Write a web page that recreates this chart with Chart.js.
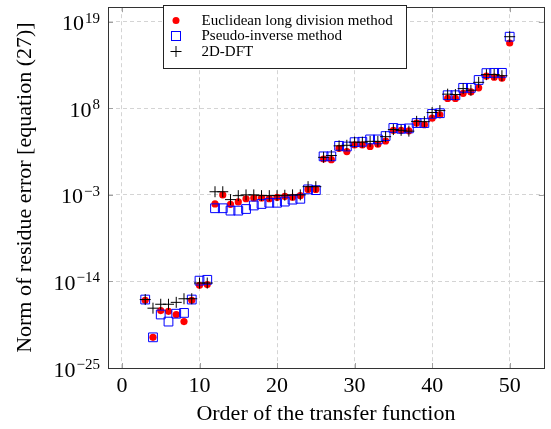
<!DOCTYPE html>
<html>
<head>
<meta charset="utf-8">
<script src="https://cdn.jsdelivr.net/npm/chart.js@4.4.1/dist/chart.umd.min.js"></script>
<style>
  html, body { margin: 0; padding: 0; background: #fff; }
  #wrap { width: 551px; height: 429px; }
</style>
</head>
<body>
<div id="wrap"><canvas id="chart" width="551" height="429"></canvas></div>
<script>
// transfer function orders
const orders = [3, 4, 5, 6, 7, 8, 9, 10, 11, 12, 13, 14, 15, 16, 17, 18, 19, 20, 21, 22, 23, 24, 25,
    26, 27, 28, 29, 30, 31, 32, 33, 34, 35, 36, 37, 38, 39, 40, 41, 42, 43, 44, 45, 46, 47, 48, 49, 50];

// Euclidean long division method
const euclidean = [4e-17, 7.9e-22, 2e-18, 1.6e-18, 6.3e-19, 7.9e-20, 4e-17, 3.2e-15, 4e-15,
    7e-5, 1e-3, 6.3e-5, 1.26e-4, 3.2e-4, 4e-4, 4e-4, 3.2e-4, 5e-4, 6.3e-4, 5e-4, 8e-4, 5e-3, 5e-3,
    36, 30, 800, 320, 2200, 2200, 1400, 2700, 7000, 1.6e5, 1.6e5, 1.4e5, 1.35e6, 8.3e5, 5.6e6, 1.5e7,
    1.8e9, 1.8e9, 8e9, 1.2e10, 4e10, 1.2e12, 9e11, 6.6e11, 2e16];

// Pseudo-inverse method
const pseudoInverse = [5e-17, 7.9e-22, 6.3e-19, 7.9e-20, 7.9e-19, 1e-18, 5e-17, 1.26e-14, 1.6e-14,
    2e-5, 2e-5, 1e-5, 1e-5, 1.6e-5, 4.5e-5, 7e-5, 1e-4, 1e-4, 1.4e-4, 2.5e-4, 3.2e-4, 5e-3, 4e-3,
    79, 79, 1700, 1400, 5000, 5600, 11200, 11200, 3e4, 3.2e5, 2.5e5, 2.8e5, 1.35e6, 1.35e6, 2e7, 2.4e7,
    4.6e9, 4.6e9, 4e10, 4e10, 4e11, 3e12, 3.2e12, 3.2e12, 1.26e17];

// 2D-DFT
const dft2d = [5e-17, 4e-18, 1.26e-17, 1.26e-17, 2.2e-17, 6.3e-17, 6.3e-17, 6.3e-15, 6.3e-15,
    2.5e-3, 2.5e-3, 2.5e-4, 8e-4, 1e-3, 1e-3, 8e-4, 8e-4, 8e-4, 9e-4, 1e-3, 1e-3, 1.1e-2, 1.1e-2,
    59, 100, 1700, 2000, 5000, 5000, 6300, 6300, 2.5e4, 2e5, 1.6e5, 1.26e5, 2.2e6, 2e6, 2.9e7, 5.1e7,
    6.3e9, 5.6e9, 3.2e10, 2e10, 2e11, 1.9e12, 2e12, 1.4e12, 1.26e17];

const xTicks = [0, 10, 20, 30, 40, 50];
const yTicks = [1e-25, 1e-14, 1e-3, 1e8, 1e19];
const legendLabels = ['Euclidean long division method', 'Pseudo-inverse method', '2D-DFT'];

const FONT = "'Liberation Serif', 'Times New Roman', serif";

function toPoints(ys) {
    return orders.map((x, i) => ({ x: x, y: ys[i] }));
}

// frame, inner ticks, y labels with exponents, legend box
const decorPlugin = {
    id: 'decor',
    beforeDatasetsDraw(chart) {
        const ctx = chart.ctx;
        const a = chart.chartArea;
        const xs = chart.scales.x, ys = chart.scales.y;
        ctx.save();
        ctx.strokeStyle = '#a0a0a0';
        ctx.lineWidth = 1;
        ctx.beginPath();
        xTicks.forEach(v => {
            const px = Math.round(xs.getPixelForValue(v)) + 0.5;
            ctx.moveTo(px, a.bottom); ctx.lineTo(px, a.bottom - 5);
            ctx.moveTo(px, a.top); ctx.lineTo(px, a.top + 5);
        });
        yTicks.forEach(v => {
            const py = Math.round(ys.getPixelForValue(v)) + 0.5;
            ctx.moveTo(a.left, py); ctx.lineTo(a.left + 5, py);
            ctx.moveTo(a.right, py); ctx.lineTo(a.right - 5, py);
        });
        ctx.stroke();
        ctx.restore();
    },
    afterDraw(chart) {
        const ctx = chart.ctx;
        const a = chart.chartArea;
        const ys = chart.scales.y;
        ctx.save();

        // frame
        ctx.strokeStyle = '#333';
        ctx.lineWidth = 1;
        ctx.strokeRect(Math.round(a.left) + 0.5, Math.round(a.top) + 0.5,
            Math.round(a.right - a.left), Math.round(a.bottom - a.top));

        // y tick labels 10^n
        ctx.fillStyle = '#000';
        ctx.textBaseline = 'alphabetic';
        yTicks.forEach(v => {
            const py = ys.getPixelForValue(v);
            const ex = Math.round(Math.log10(v));
            const exTxt = (ex < 0 ? '\u2212' : '') + Math.abs(ex);
            ctx.font = '15px ' + FONT;
            const exW = ctx.measureText(exTxt).width;
            const right = a.left - 8;
            ctx.textAlign = 'left';
            ctx.fillText(exTxt, right - exW, py + 1);
            ctx.font = '22px ' + FONT;
            ctx.textAlign = 'right';
            ctx.fillText('10', right - exW - 1, py + 8.5);
        });

        // legend
        const lx = 163.5, ly = 5.5, lw = 243, lh = 63;
        ctx.fillStyle = '#fff';
        ctx.fillRect(lx, ly, lw, lh);
        ctx.strokeStyle = '#222';
        ctx.strokeRect(lx, ly, lw, lh);
        const rowY = [20.5, 36, 51.5];
        const mx = 176;
        // red dot
        ctx.fillStyle = '#ff0000';
        ctx.beginPath();
        ctx.arc(mx, rowY[0], 3.5, 0, Math.PI * 2);
        ctx.fill();
        // blue square
        ctx.strokeStyle = '#0000ff';
        ctx.strokeRect(mx - 4.5, rowY[1] - 4.5, 9, 9);
        // black plus
        ctx.strokeStyle = '#000';
        ctx.beginPath();
        ctx.moveTo(mx - 5.5, rowY[2]); ctx.lineTo(mx + 5.5, rowY[2]);
        ctx.moveTo(mx, rowY[2] - 5.5); ctx.lineTo(mx, rowY[2] + 5.5);
        ctx.stroke();

        ctx.fillStyle = '#000';
        ctx.font = '15px ' + FONT;
        ctx.textAlign = 'left';
        ctx.textBaseline = 'middle';
        legendLabels.forEach((t, i) => ctx.fillText(t, 201.5, rowY[i] + 0.5));
        ctx.restore();
    }
};

new Chart(document.getElementById('chart'), {
    type: 'scatter',
    data: {
        datasets: [
            {
                label: legendLabels[2],
                data: toPoints(dft2d),
                pointStyle: 'cross',
                pointRadius: 5.5,
                borderColor: '#000',
                borderWidth: 1,
                order: 0
            },
            {
                label: legendLabels[1],
                data: toPoints(pseudoInverse),
                pointStyle: 'rect',
                pointRadius: 6.2,
                borderColor: '#0000ff',
                backgroundColor: 'rgba(0,0,0,0)',
                borderWidth: 1,
                order: 1
            },
            {
                label: legendLabels[0],
                data: toPoints(euclidean),
                pointStyle: 'circle',
                pointRadius: 3.6,
                backgroundColor: '#ff0000',
                borderWidth: 0,
                order: 2
            }
        ]
    },
    options: {
        responsive: false,
        animation: false,
        events: [],
        layout: { padding: { left: 0, right: 4, top: 2, bottom: 0 } },
        plugins: {
            legend: { display: false },
            tooltip: { enabled: false }
        },
        scales: {
            x: {
                type: 'linear',
                min: -1.8,
                max: 54.4,
                afterBuildTicks: s => { s.ticks = xTicks.map(v => ({ value: v })); },
                afterFit: s => { s.height = 61; },
                grid: { color: '#d4d4d4', drawTicks: false },
                border: { display: true, color: '#333', dash: [4, 3] },
                ticks: {
                    color: '#000',
                    padding: 5,
                    maxRotation: 0,
                    font: { family: FONT, size: 22 }
                },
                title: {
                    display: true,
                    text: 'Order of the transfer function',
                    color: '#000',
                    font: { family: FONT, size: 22 },
                    padding: { top: 0, bottom: 2 }
                }
            },
            y: {
                type: 'logarithmic',
                min: 1e-25,
                max: Math.pow(10, 20.85),
                afterBuildTicks: s => { s.ticks = yTicks.map(v => ({ value: v })); },
                afterFit: s => { s.width = 108; },
                grid: { color: '#d4d4d4', drawTicks: false },
                border: { display: true, color: '#333', dash: [4, 3] },
                ticks: { display: false },
                title: {
                    display: true,
                    text: 'Norm of residue error [equation (27)]',
                    color: '#000',
                    font: { family: FONT, size: 22 },
                    padding: { top: 12, bottom: 0 }
                }
            }
        }
    },
    plugins: [decorPlugin]
});
</script>
</body>
</html>
